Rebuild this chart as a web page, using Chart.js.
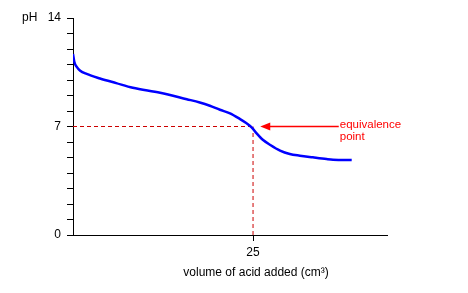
<!DOCTYPE html>
<html>
<head>
<meta charset="utf-8">
<script src="https://cdn.jsdelivr.net/npm/chart.js@4.4.1/dist/chart.umd.min.js"></script>
<style>
  body { margin: 0; background: #fff; }
  #wrap { width: 468px; height: 293px; }
</style>
</head>
<body>
<div id="wrap"><canvas id="myChart"></canvas></div>
<script>
// titration curve
const volume = [0, 0.18, 0.5, 1.0, 1.9, 3.75, 6.0, 8.3, 12.1, 15.8, 17.6, 19.0, 20.4, 21.8, 23.2, 24.1, 24.8, 25.5, 26.4, 27.4, 28.75, 30.1, 31.5, 33.3, 35.2, 36.1, 38.7];
const pH = [11.68, 11.18, 10.86, 10.6, 10.39, 10.1, 9.8, 9.5, 9.18, 8.76, 8.55, 8.34, 8.08, 7.85, 7.48, 7.21, 6.95, 6.56, 6.13, 5.81, 5.45, 5.23, 5.12, 5.01, 4.9, 4.86, 4.84];

const yLabels = [0, 7, 14];
const xLabels = [25];
const eqVolume = 25, eqPH = 7;
const arrowFrom = 36.9, arrowTo = 26;
const noteText = ['equivalence', 'point'];
const xTitle = 'volume of acid added (cm³)';

const curve = volume.map((v, i) => ({ x: v, y: pH[i] }));

const notes = {
    id: 'notes',
    afterDatasetsDraw(chart) {
        const c = chart.ctx, xs = chart.scales.x, ys = chart.scales.y;
        const ax = xs.getPixelForValue(arrowTo), ay = ys.getPixelForValue(eqPH);
        c.save();
        c.fillStyle = '#ff0000';
        c.beginPath();
        c.moveTo(ax, ay);
        c.lineTo(ax + 10, ay - 4);
        c.lineTo(ax + 10, ay + 4);
        c.closePath();
        c.fill();
        c.font = '11.5px "Liberation Sans", Arial, sans-serif';
        c.textBaseline = 'middle';
        const tx = xs.getPixelForValue(arrowFrom) + 1;
        c.fillText(noteText[0], tx, ay - 2);
        c.fillText(noteText[1], tx, ay + 10);
        c.fillStyle = '#000';
        c.font = '12px "Liberation Sans", Arial, sans-serif';
        c.fillText('pH', 22, ys.getPixelForValue(14));
        c.textAlign = 'center';
        c.fillText(xTitle, xs.getPixelForValue(eqVolume) + 3, chart.height - 20);
        c.restore();
    }
};

let ct = document.getElementById('myChart').getContext('2d');
let myChart = new Chart(ct, {
    type: 'line',
    data: {
        datasets: [{
            data: curve,
            borderColor: '#0000ff',
            borderWidth: 2.5,
            pointRadius: 0,
            cubicInterpolationMode: 'monotone',
            fill: false
        }, {
            data: [{ x: 0, y: eqPH }, { x: eqVolume, y: eqPH }],
            borderColor: 'rgb(204,0,0)',
            borderWidth: 1,
            borderDash: [4, 3],
            pointRadius: 0
        }, {
            data: [{ x: eqVolume, y: 0 }, { x: eqVolume, y: eqPH }],
            borderColor: 'rgb(204,0,0)',
            borderWidth: 1,
            borderDash: [4, 3],
            pointRadius: 0
        }, {
            data: [{ x: arrowTo + 1, y: eqPH }, { x: arrowFrom, y: eqPH }],
            borderColor: '#ff0000',
            borderWidth: 1.5,
            pointRadius: 0
        }]
    },
    options: {
        responsive: true,
        maintainAspectRatio: false,
        animation: false,
        layout: { padding: { top: 18, right: 81, left: 0, bottom: 0 } },
        plugins: {
            legend: { display: false },
            tooltip: { enabled: false }
        },
        scales: {
            x: {
                type: 'linear',
                min: 0,
                max: 43.6,
                afterBuildTicks: s => { s.ticks = xLabels.map(v => ({ value: v })); },
                afterFit: s => { s.height = 58; },
                border: { color: '#000', width: 1 },
                grid: { drawOnChartArea: false, color: '#000', tickLength: 6 },
                ticks: { color: '#000', padding: 4, maxRotation: 0, font: { family: '"Liberation Sans", Arial', size: 12 } }
            },
            y: {
                min: 0,
                max: 14,
                afterFit: s => { s.width = 73; },
                border: { color: '#000', width: 1 },
                grid: { drawOnChartArea: false, color: '#000', tickLength: 6 },
                ticks: {
                    stepSize: 1,
                    color: '#000',
                    padding: 6,
                    autoSkip: false,
                    font: { family: '"Liberation Sans", Arial', size: 12 },
                    callback: v => yLabels.includes(v) ? v : ''
                }
            }
        }
    },
    plugins: [notes]
});
</script>
</body>
</html>
